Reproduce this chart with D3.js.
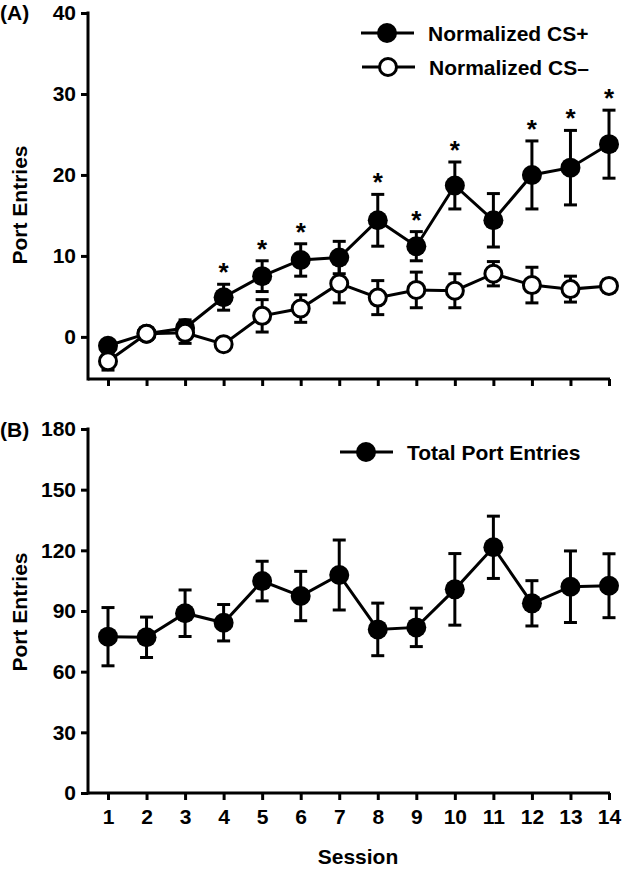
<!DOCTYPE html>
<html><head><meta charset="utf-8">
<script src="https://cdn.jsdelivr.net/npm/d3@7"></script>
<style>
body{margin:0;background:#fff;}
text{font-family:"Liberation Sans",Arial,Helvetica,sans-serif;font-weight:bold;fill:#000;}
</style></head>
<body>
<svg id="chart" width="622" height="869"></svg>
<script>
const sessions = [1,2,3,4,5,6,7,8,9,10,11,12,13,14];
const csPlus      = [-1.1, 0.4, 1.1, 4.9, 7.5, 9.5, 9.8, 14.4, 11.2, 18.7, 14.4, 20.0, 20.9, 23.8];
const csPlusErr   = [0.6, 0.5, 1.0, 1.6, 1.9, 2.0, 2.0, 3.2, 1.8, 2.9, 3.3, 4.2, 4.6, 4.2];
const csMinus     = [-3.0, 0.4, 0.5, -0.9, 2.6, 3.5, 6.6, 4.85, 5.8, 5.7, 7.8, 6.4, 5.9, 6.3];
const csMinusErr  = [1.1, 0.5, 1.3, 0.4, 2.0, 1.7, 2.4, 2.1, 2.2, 2.1, 1.5, 2.2, 1.6, 0.8];
const significant = [0,0,0,1,1,1,0,1,1,1,0,1,1,1];
const totalEntries = [77.3, 77.0, 88.9, 84.2, 104.8, 97.4, 107.8, 80.9, 81.9, 100.7, 121.5, 93.8, 102.0, 102.5];
const totalErr     = [14.4, 10.0, 11.5, 9.0, 9.8, 12.2, 17.3, 13.0, 9.5, 17.7, 15.4, 11.2, 17.7, 15.8];
const yTicksA = [0,10,20,30,40];
const yTicksB = [0,30,60,90,120,150,180];
const legendA = ["Normalized CS+","Normalized CS\u2013"];
const legendB = ["Total Port Entries"];

const svg = d3.select("#chart");
const FS = 21;
const axisX0 = 88, axisX1 = 610;
const x = d3.scaleLinear().domain([1,14]).range([108,609]);
const yA = d3.scaleLinear().domain([-5.2,40]).range([379,13]);
const yB = d3.scaleLinear().domain([0,180]).range([793,429]);
const R = 10, SW = 3, CAP = 6.5;

function styleAxis(g){
  g.selectAll(".tick line").attr("stroke","#000").attr("stroke-width",SW);
  g.selectAll(".tick text").attr("font-size",FS).attr("font-weight","bold")
    .attr("font-family","Liberation Sans, Arial, sans-serif").attr("fill","#000");
}

function panel(y, yTicks, showXLabels){
  const yMin = y.range()[0];
  const gy = svg.append("g").attr("transform",`translate(${axisX0},0)`)
    .call(d3.axisLeft(y).tickValues(yTicks).tickSize(7).tickSizeOuter(0).tickPadding(5));
  gy.select(".domain").remove();
  styleAxis(gy);
  svg.append("line").attr("x1",axisX0).attr("x2",axisX0).attr("y1",y.range()[1]-1.5).attr("y2",yMin+1.5)
    .attr("stroke","#000").attr("stroke-width",SW);
  const gx = svg.append("g").attr("transform",`translate(0,${yMin})`)
    .call(d3.axisBottom(x).tickValues(sessions).tickSize(7).tickSizeOuter(0).tickPadding(9)
      .tickFormat(showXLabels ? d3.format("d") : ()=>""));
  gx.select(".domain").remove();
  styleAxis(gx);
  svg.append("line").attr("x1",axisX0).attr("x2",axisX1).attr("y1",yMin).attr("y2",yMin)
    .attr("stroke","#000").attr("stroke-width",SW);
}

function series(y, vals, errs, filled){
  const g = svg.append("g");
  const data = sessions.map((s,i)=>({s, v:vals[i], e:errs[i]}));
  g.selectAll("line.eb").data(data).enter().append("line")
    .attr("x1",d=>x(d.s)).attr("x2",d=>x(d.s)).attr("y1",d=>y(d.v-d.e)).attr("y2",d=>y(d.v+d.e))
    .attr("stroke","#000").attr("stroke-width",SW);
  ["top","bot"].forEach(k=>{
    g.selectAll("line.cap"+k).data(data).enter().append("line")
      .attr("x1",d=>x(d.s)-CAP).attr("x2",d=>x(d.s)+CAP)
      .attr("y1",d=>y(k==="top"?d.v+d.e:d.v-d.e)).attr("y2",d=>y(k==="top"?d.v+d.e:d.v-d.e))
      .attr("stroke","#000").attr("stroke-width",SW);
  });
  g.append("path").datum(data)
    .attr("d",d3.line().x(d=>x(d.s)).y(d=>y(d.v)))
    .attr("fill","none").attr("stroke","#000").attr("stroke-width",SW);
  g.selectAll("circle").data(data).enter().append("circle")
    .attr("cx",d=>x(d.s)).attr("cy",d=>y(d.v)).attr("r",filled?R:R-1.5)
    .attr("fill",filled?"#000":"#fff").attr("stroke","#000").attr("stroke-width",filled?0:SW);
}

function legendItem(lx, ly, label, filled){
  svg.append("line").attr("x1",lx-26).attr("x2",lx+27).attr("y1",ly).attr("y2",ly)
    .attr("stroke","#000").attr("stroke-width",SW);
  svg.append("circle").attr("cx",lx).attr("cy",ly).attr("r",filled?R:R-1.5)
    .attr("fill",filled?"#000":"#fff").attr("stroke","#000").attr("stroke-width",filled?0:SW);
  svg.append("text").attr("x",lx+41).attr("y",ly+7.5).attr("font-size",FS).text(label);
}

// Panel A
panel(yA, yTicksA, false);
series(yA, csPlus, csPlusErr, true);
series(yA, csMinus, csMinusErr, false);
svg.append("g").selectAll("text").data(sessions.filter((s,i)=>significant[i]))
  .enter().append("text")
  .attr("x",s=>x(s)).attr("y",s=>{const i=s-1;return yA(csPlus[i]+csPlusErr[i])-3;})
  .attr("text-anchor","middle").attr("font-size",26).text("*");
legendItem(387, 33, legendA[0], true);
legendItem(388, 67, legendA[1], false);
svg.append("text").attr("x",0).attr("y",20).attr("font-size",FS).text("(A)");
svg.append("text").attr("transform","translate(27,205) rotate(-90)").attr("text-anchor","middle")
  .attr("font-size",FS).text("Port Entries");

// Panel B
panel(yB, yTicksB, true);
series(yB, totalEntries, totalErr, true);
legendItem(366, 452, legendB[0], true);
svg.append("text").attr("x",0).attr("y",437).attr("font-size",FS).text("(B)");
svg.append("text").attr("transform","translate(27,612) rotate(-90)").attr("text-anchor","middle")
  .attr("font-size",FS).text("Port Entries");
svg.append("text").attr("x",358).attr("y",864).attr("text-anchor","middle").attr("font-size",FS).text("Session");
</script>
</body></html>
